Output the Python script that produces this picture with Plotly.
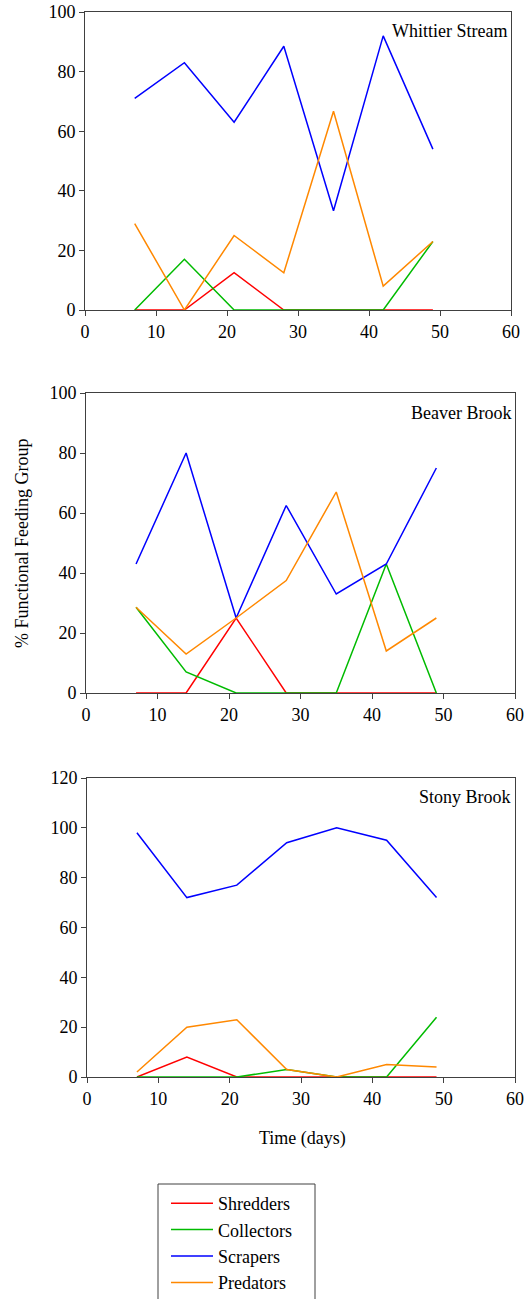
import plotly.graph_objects as go

days = [7, 14, 21, 28, 35, 42, 49]
series_names = ["Shredders", "Collectors", "Scrapers", "Predators"]
colors = ["#ff0000", "#00bb00", "#0000ff", "#ff8800"]

whittier = {
    "Shredders": [0, 0, 12.5, 0, 0, 0, 0],
    "Collectors": [0, 17, 0, 0, 0, 0, 23],
    "Scrapers": [71, 83, 63, 88.5, 33.3, 92, 54],
    "Predators": [29, 0, 25, 12.5, 66.7, 8, 23],
}
beaver = {
    "Shredders": [0, 0, 25, 0, 0, 0, 0],
    "Collectors": [28.6, 7, 0, 0, 0, 43, 0],
    "Scrapers": [43, 80, 25, 62.5, 33, 43, 75],
    "Predators": [28.6, 13, 25, 37.5, 67, 14, 25],
}
stony = {
    "Shredders": [0, 8, 0, 0, 0, 0, 0],
    "Collectors": [0, 0, 0, 3, 0, 0, 24],
    "Scrapers": [98, 72, 77, 94, 100, 95, 72],
    "Predators": [2, 20, 23, 3, 0, 5, 4],
}
streams = [("Whittier Stream", whittier, 100), ("Beaver Brook", beaver, 100), ("Stony Brook", stony, 120)]

W, H = 525, 1299
# pixel boxes in screenshot coords (left, right, top, bottom)
boxes = [(85, 511, 12, 310), (86, 515, 393, 693), (87, 515, 778, 1077)]


def px(x):
    return x / W


def py(y):
    return 1 - y / H


font = "Liberation Serif, Times New Roman, serif"
FS = 18
AX = "#404040"
fig = go.Figure()
layout = dict(
    width=W, height=H, margin=dict(l=0, r=0, t=0, b=0, autoexpand=False),
    paper_bgcolor="white", plot_bgcolor="white",
    font=dict(family=font, size=FS, color="black"),
    showlegend=True,
    legend=dict(x=px(166), y=py(1185), xanchor="left", yanchor="top",
                bgcolor="rgba(0,0,0,0)", borderwidth=0, font=dict(size=FS, family=font),
                tracegroupgap=0, itemwidth=42),
)
annotations = []
for i, (name, data, ymax) in enumerate(streams):
    l, r, t, b = boxes[i]
    xa = "xaxis" if i == 0 else f"xaxis{i+1}"
    ya = "yaxis" if i == 0 else f"yaxis{i+1}"
    xr = "x" if i == 0 else f"x{i+1}"
    yr = "y" if i == 0 else f"y{i+1}"
    layout[xa] = dict(domain=[px(l), px(r)], anchor=yr, range=[0, 60], dtick=10,
                      ticks="outside", ticklen=5, tickcolor=AX,
                      showline=True, linecolor=AX, linewidth=1, mirror=True,
                      showgrid=False, zeroline=False, tickfont=dict(size=FS),
                      automargin=False, layer="below traces")
    layout[ya] = dict(domain=[py(b), py(t)], anchor=xr, range=[0, ymax], dtick=20,
                      ticks="outside", ticklen=5, tickcolor=AX,
                      showline=True, linecolor=AX, linewidth=1, mirror=True,
                      showgrid=False, zeroline=False, tickfont=dict(size=FS),
                      automargin=False, layer="below traces")
    for s, c in zip(series_names, colors):
        fig.add_trace(go.Scatter(x=days, y=data[s], mode="lines", name=s,
                                 line=dict(color=c, width=1.5),
                                 xaxis=xr, yaxis=yr, showlegend=(i == 0)))
    annotations.append(dict(text=name, xref=f"{xr} domain", yref=f"{yr} domain",
                            x=0.995, y=0.975, xanchor="right", yanchor="top",
                            showarrow=False, font=dict(size=FS, family=font)))

annotations.append(dict(text="% Functional Feeding Group", xref="paper", yref="paper",
                        x=px(22), y=py(544), textangle=-90, showarrow=False,
                        xanchor="center", yanchor="middle", font=dict(size=FS, family=font)))
annotations.append(dict(text="Time (days)", xref="paper", yref="paper",
                        x=px(302), y=py(1138), showarrow=False,
                        xanchor="center", yanchor="middle", font=dict(size=FS, family=font)))
layout["annotations"] = annotations
# legend frame (open at the bottom edge of the page, as in the reference)
layout["shapes"] = [dict(type="rect", xref="paper", yref="paper",
                         x0=px(158), x1=px(315), y0=py(1320), y1=py(1184),
                         line=dict(color=AX, width=1), fillcolor="rgba(0,0,0,0)")]
fig.update_layout(**layout)
fig.write_html("out.html", config={"displayModeBar": False},
               post_script="document.body.style.margin='0';document.body.style.overflow='hidden';")
